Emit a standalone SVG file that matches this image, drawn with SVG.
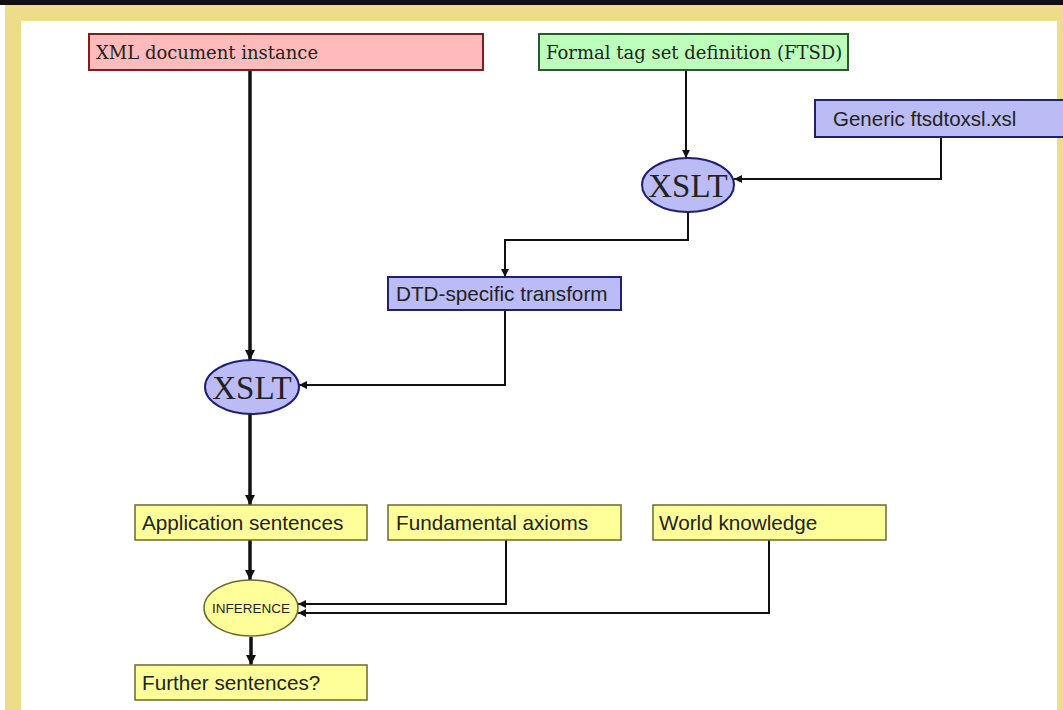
<svg xmlns="http://www.w3.org/2000/svg" width="1063" height="710" viewBox="0 0 1063 710">
<defs>
<style>
.serif{font-family:"DejaVu Serif","Liberation Serif",serif;fill:#222}
.lser{font-family:"Liberation Serif","DejaVu Serif",serif;fill:#222}
.sans{font-family:"Liberation Sans",Arial,sans-serif;fill:#222}
.thick{stroke:#111;stroke-width:3.5;fill:none}
.thin{stroke:#111;stroke-width:2;fill:none}
.pink{fill:#FFBBBB;stroke:#7a1f1f;stroke-width:2}
.green{fill:#BBFFBB;stroke:#2a5a2a;stroke-width:2}
.blue{fill:#BBBBF5;stroke:#202070;stroke-width:2}
.yel{fill:#FFFF99;stroke:#6a6a30;stroke-width:1.5}
</style>
<marker id="ah" viewBox="0 0 10 10" refX="10" refY="5" markerWidth="3" markerHeight="3" orient="auto" markerUnits="strokeWidth"><path d="M0,0 L10,5 L0,10 z" fill="#111"/></marker>
<marker id="ah2" viewBox="0 0 10 10" refX="10" refY="5" markerWidth="4" markerHeight="4" orient="auto" markerUnits="strokeWidth"><path d="M0,0 L10,5 L0,10 z" fill="#111"/></marker>
</defs>
<rect x="0" y="0" width="1063" height="710" fill="#EEDD88"/>
<rect x="0" y="0" width="1063" height="5" fill="#111"/>
<rect x="0" y="5" width="5" height="705" fill="#fff"/>
<rect x="21" y="21" width="1036" height="689" fill="#fff"/>
<g id="connectors">
<path class="thick" d="M250,70 V360" marker-end="url(#ah)"/>
<path class="thin" d="M686,70 V158" marker-end="url(#ah2)"/>
<path class="thin" d="M941,137 V179 H734" marker-end="url(#ah2)"/>
<path class="thin" d="M688,212 V240 H505 V277" marker-end="url(#ah2)"/>
<path class="thin" d="M505,310 V385 H299" marker-end="url(#ah2)"/>
<path class="thick" d="M250,414 V505" marker-end="url(#ah)"/>
<path class="thick" d="M250,540 V580" marker-end="url(#ah)"/>
<path class="thin" d="M506,540 V604 H298" marker-end="url(#ah2)"/>
<path class="thin" d="M769,540 V613 H298" marker-end="url(#ah2)"/>
<path class="thick" d="M251,637 V665" marker-end="url(#ah)"/>
</g>
<g id="xml"><rect class="pink" x="89" y="34" width="394" height="36"/><text class="serif" x="96" y="59" font-size="18">XML document instance</text></g>
<g id="ftsd"><rect class="green" x="539" y="34" width="309" height="36"/><text class="serif" x="546" y="59" font-size="18">Formal tag set definition (FTSD)</text></g>
<g id="generic"><rect class="blue" x="815" y="100" width="250" height="37"/><text class="sans" x="833" y="126" font-size="20.5">Generic ftsdtoxsl.xsl</text></g>
<g id="xslt1"><ellipse class="blue" cx="688" cy="185" rx="46" ry="27"/><text class="lser" x="688" y="197" font-size="33" text-anchor="middle">XSLT</text></g>
<g id="dtd"><rect class="blue" x="388" y="277" width="233" height="33"/><text class="sans" x="396" y="301" font-size="20.7">DTD-specific transform</text></g>
<g id="xslt2"><ellipse class="blue" cx="252" cy="387" rx="47" ry="27"/><text class="lser" x="252" y="399" font-size="33" text-anchor="middle">XSLT</text></g>
<g id="app"><rect class="yel" x="135" y="505" width="232" height="35"/><text class="sans" x="142" y="530" font-size="20.7">Application sentences</text></g>
<g id="axioms"><rect class="yel" x="388" y="505" width="233" height="35"/><text class="sans" x="396" y="530" font-size="20.7">Fundamental axioms</text></g>
<g id="world"><rect class="yel" x="653" y="505" width="233" height="35"/><text class="sans" x="659" y="530" font-size="20.7">World knowledge</text></g>
<g id="inference"><ellipse class="yel" cx="251" cy="608" rx="47" ry="28"/><text class="sans" x="251" y="613" font-size="13.5" text-anchor="middle">INFERENCE</text></g>
<g id="further"><rect class="yel" x="135" y="665" width="232" height="35"/><text class="sans" x="142" y="690" font-size="20.7">Further sentences?</text></g>
</svg>
